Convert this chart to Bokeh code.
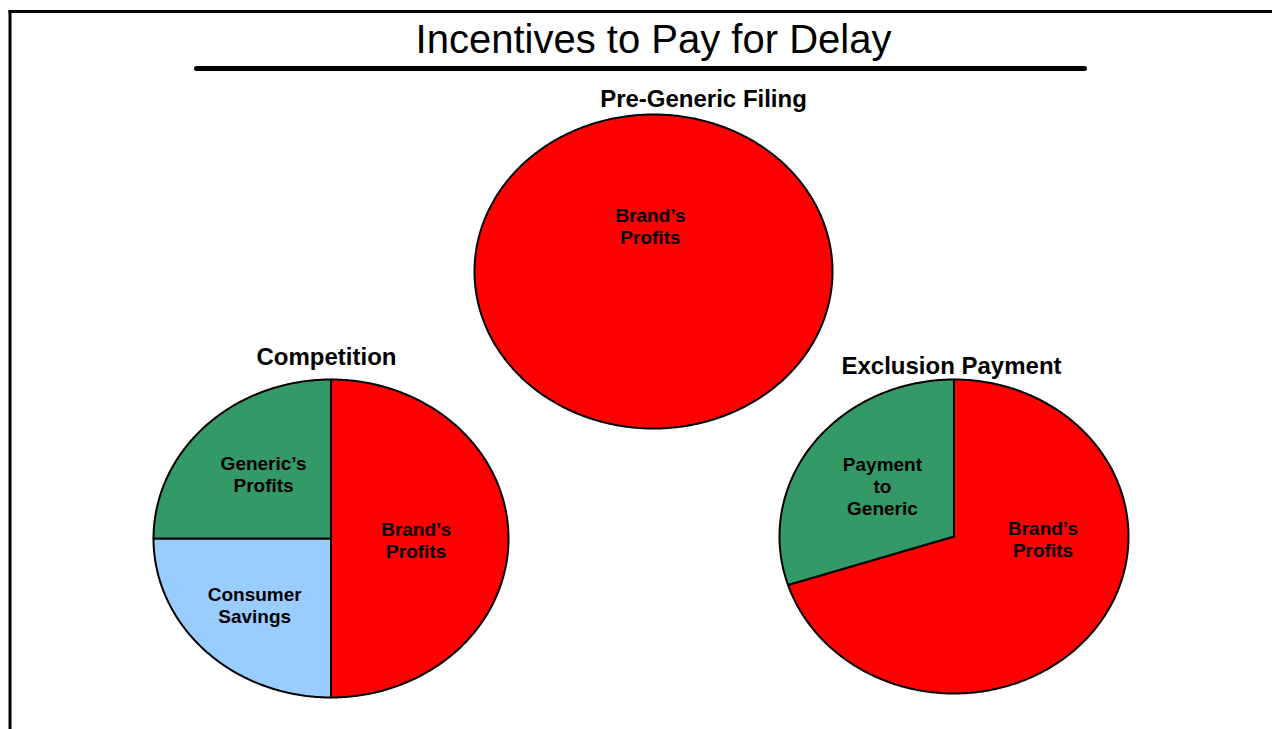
import numpy as np
from bokeh.plotting import figure
from bokeh.models import Range1d, ColumnDataSource
from bokeh.core.properties import value
from bokeh.embed import file_html
from bokeh.resources import INLINE

# ---------------- data ----------------
chart_title = "Incentives to Pay for Delay"
pie_titles = ["Pre-Generic Filing", "Competition", "Exclusion Payment"]

pre_labels = ["Brand\u2019s\nProfits"]
pre_values = [100]

comp_labels = ["Brand\u2019s\nProfits", "Consumer\nSavings", "Generic\u2019s\nProfits"]
comp_values = [50, 25, 25]

excl_labels = ["Brand\u2019s\nProfits", "Payment\nto\nGeneric"]
excl_values = [70, 30]

# ---------------- styles / layout ----------------
W, H = 1272, 729
RED, GREEN, BLUE = "#FF0000", "#339966", "#99CCFF"
pre_colors = [RED]
comp_colors = [RED, BLUE, GREEN]
excl_colors = [RED, GREEN]

# pie geometry in page pixels: centre x, centre y, radius x, radius y
geom = [
    (653.0, 271.0, 179.0, 157.0),
    (330.5, 538.0, 177.5, 159.0),
    (953.5, 536.0, 174.5, 157.0),
]
# pie title positions (centre x, middle y)
title_pos = [(703, 98), (326, 356), (951, 365)]
# label positions inside slices, as offsets in units of radius (x right, y down)
label_off = [
    [(-0.017, -0.287)],
    [(0.48, 0.01), (-0.43, 0.42), (-0.38, -0.40)],
    [(0.51, 0.022), (-0.41, -0.32)],
]

font = "Liberation Sans"

p = figure(width=W, height=H, x_range=Range1d(0, W), y_range=Range1d(H, 0),
           output_backend="svg", toolbar_location=None, min_border=0,
           background_fill_color="white", border_fill_color="white")
p.axis.visible = False
p.xgrid.visible = False
p.ygrid.visible = False
p.outline_line_color = None

# page frame (top and left rules)
p.line(x=[8, W], y=[11, 11], line_color="black", line_width=3)
p.line(x=[9.5, 9.5], y=[10, H], line_color="black", line_width=3)

# title and underline
p.text(x=[653], y=[38], text=[chart_title], text_font=value(font),
       text_font_size="40px", text_align="center", text_baseline="middle",
       text_color="black")
p.line(x=[196, 1084], y=[68, 68], line_color="black", line_width=5, line_cap="round")

all_labels = [pre_labels, comp_labels, excl_labels]
all_values = [pre_values, comp_values, excl_values]
all_colors = [pre_colors, comp_colors, excl_colors]

for k in range(3):
    cx, cy, rx, ry = geom[k]
    vals = np.asarray(all_values[k], dtype=float)
    fr = vals / vals.sum()
    # start at 12 o'clock, go clockwise
    start = 90.0
    xs, ys = [], []
    for f in fr:
        end = start - f * 360.0
        n = max(int(abs(start - end) * 2), 8)
        th = np.radians(np.linspace(start, end, n))
        px = cx + rx * np.cos(th)
        py = cy - ry * np.sin(th)
        if f < 0.9999:
            px = np.concatenate([[cx], px])
            py = np.concatenate([[cy], py])
        xs.append(list(px))
        ys.append(list(py))
        start = end
    src = ColumnDataSource(dict(xs=xs, ys=ys, color=all_colors[k]))
    p.patches("xs", "ys", source=src, fill_color="color", line_color="black",
              line_width=2, line_join="round")

    # slice labels
    lx = [cx + o[0] * rx for o in label_off[k]]
    ly = [cy + o[1] * ry for o in label_off[k]]
    p.text(x=lx, y=ly, text=all_labels[k], text_font=value(font),
           text_font_style="bold", text_font_size="19px", text_align="center",
           text_baseline="middle", text_color="black", text_line_height=1.05)

    # pie title
    tx, ty = title_pos[k]
    p.text(x=[tx], y=[ty], text=[pie_titles[k]], text_font=value(font),
           text_font_style="bold", text_font_size="24px", text_align="center",
           text_baseline="middle", text_color="black")

open("out.html", "w").write(file_html(p, INLINE))
